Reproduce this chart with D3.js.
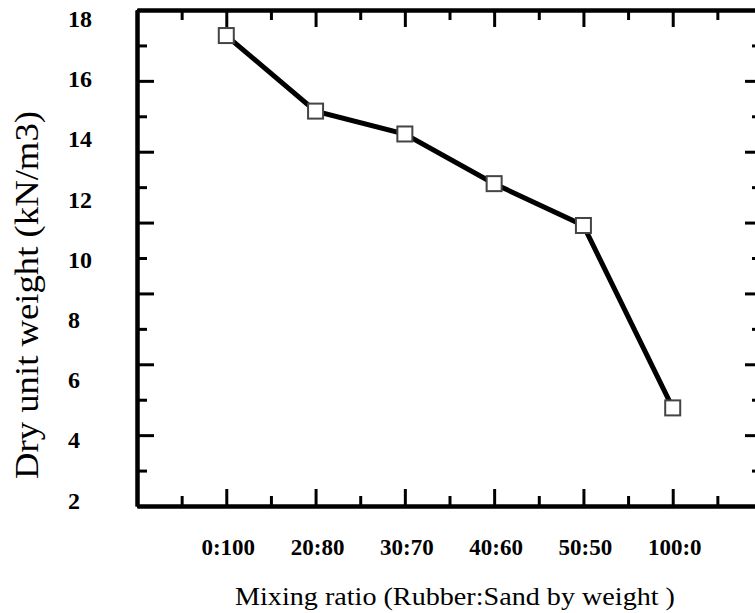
<!DOCTYPE html>
<html>
<head>
<meta charset="utf-8">
<script src="https://cdn.jsdelivr.net/npm/d3@7"></script>
<style>
  html, body { margin: 0; padding: 0; background: #fff; }
  svg { display: block; font-family: "Liberation Serif", "Times New Roman", serif; }
</style>
</head>
<body>
<div id="chart"></div>
<script>
const w = 755;
const h = 613;

// data
const categories = ["0:100", "20:80", "30:70", "40:60", "50:50", "100:0"];
const dryUnitWeight = [17.43, 14.92, 14.16, 12.51, 11.12, 5.06];
const yTickValues = [2, 4, 6, 8, 10, 12, 14, 16, 18];

const frame = { left: 137, right: 762, top: 10, bottom: 506 };

const svg = d3.select("#chart")
  .append("svg")
  .attr("width", w)
  .attr("height", h);

// category scale for the data, linear scale for the tick labels
const xscale = d3.scalePoint()
  .domain(categories)
  .range([frame.left, frame.right])
  .padding(1);

const yscale = d3.scaleLinear()
  .domain([2, 18])
  .range([500, 18.4]);

// frame tick scales (ticks of the box do not line up with the labels)
const xframe = d3.scaleLinear().domain([0, 14]).range([frame.left, frame.right]);
const yframe = d3.scaleLinear().domain([0, 14]).range([frame.bottom, frame.top]);
const major = d3.range(0, 15, 2);
const minor = d3.range(1, 15, 2);

function frameAxis(axisFn, scale, values, size, pos) {
  const g = svg.append("g")
    .attr("transform", pos)
    .call(axisFn(scale).tickValues(values).tickSizeInner(-size).tickSizeOuter(0).tickFormat(""));
  g.select(".domain").attr("stroke", "#000").attr("stroke-width", 4);
  g.selectAll(".tick line").attr("stroke", "#000").attr("stroke-width", 3);
  return g;
}

[[major, 17], [minor, 10]].forEach(([vals, len]) => {
  frameAxis(d3.axisBottom, xframe, vals, len, "translate(0," + frame.bottom + ")");
  frameAxis(d3.axisTop, xframe, vals, len, "translate(0," + frame.top + ")");
  frameAxis(d3.axisLeft, yframe, vals, len, "translate(" + frame.left + ",0)");
  frameAxis(d3.axisRight, yframe, vals, len, "translate(" + frame.right + ",0)");
});

// y tick labels
svg.append("g")
  .selectAll("text")
  .data(yTickValues)
  .enter()
  .append("text")
  .attr("x", 68)
  .attr("y", d => yscale(d) + 8.5)
  .attr("font-size", 24)
  .attr("font-weight", "bold")
  .attr("fill", "#000")
  .text(d => d);

// x tick labels
svg.append("g")
  .selectAll("text")
  .data(categories)
  .enter()
  .append("text")
  .attr("x", d => xscale(d) + 2)
  .attr("y", 555)
  .attr("text-anchor", "middle")
  .attr("font-size", 23)
  .attr("font-weight", "bold")
  .attr("fill", "#000")
  .text(d => d);

// line + markers
const pts = categories.map((c, i) => [xscale(c), yscale(dryUnitWeight[i])]);

svg.append("path")
  .datum(pts)
  .attr("d", d3.line())
  .attr("fill", "none")
  .attr("stroke", "#000")
  .attr("stroke-width", 5);

svg.selectAll("rect.pt")
  .data(pts)
  .enter()
  .append("rect")
  .attr("class", "pt")
  .attr("x", d => d[0] - 7.5)
  .attr("y", d => d[1] - 7.5)
  .attr("width", 15)
  .attr("height", 15)
  .attr("fill", "#fff")
  .attr("stroke", "#444")
  .attr("stroke-width", 2);

// axis titles
svg.append("text")
  .attr("x", 455)
  .attr("y", 605)
  .attr("text-anchor", "middle")
  .attr("font-size", 26)
  .attr("textLength", 440)
  .attr("lengthAdjust", "spacingAndGlyphs")
  .attr("fill", "#000")
  .text("Mixing ratio (Rubber:Sand by weight )");

svg.append("text")
  .attr("transform", "translate(38,295) rotate(-90)")
  .attr("text-anchor", "middle")
  .attr("font-size", 33)
  .attr("textLength", 368)
  .attr("lengthAdjust", "spacingAndGlyphs")
  .attr("fill", "#000")
  .text("Dry unit weight (kN/m3)");
</script>
</body>
</html>
